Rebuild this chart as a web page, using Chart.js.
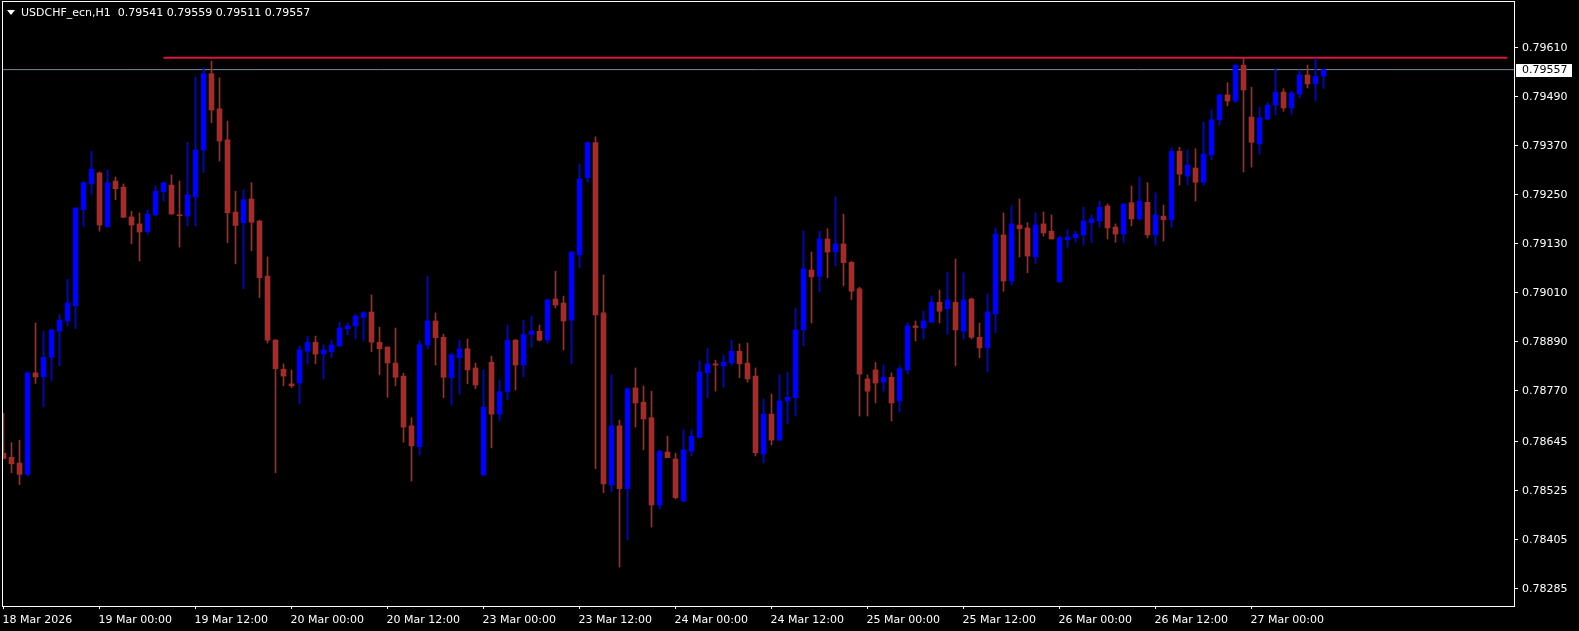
<!DOCTYPE html>
<html lang="en">
<head>
<meta charset="UTF-8">
<title>USDCHF_ecn,H1</title>
<script src="https://cdn.jsdelivr.net/npm/chart.js"></script>
<style>
  html, body { margin: 0; padding: 0; background: #000; }
  canvas { display: block; }
</style>
</head>
<body>
<canvas id="chart" width="1579" height="631"></canvas>
<script>
const symbol = 'USDCHF_ecn,H1';

// hourly bars, 18 Mar 12:00 .. 27 Mar 09:00
const opens = [
  0.78617, 0.78607, 0.78593, 0.78565, 0.78814, 0.78804, 0.78852, 0.78916, 0.78941, 0.78978,
  0.79214, 0.79277, 0.79304, 0.79172, 0.79284, 0.79269, 0.79196, 0.79179, 0.79160, 0.79201,
  0.79258, 0.79274, 0.79201, 0.79198, 0.79245, 0.79360, 0.79547, 0.79461, 0.79385, 0.79208,
  0.79182, 0.79240, 0.79186, 0.79051, 0.78894, 0.78823, 0.78787, 0.78789, 0.78867, 0.78889,
  0.78860, 0.78866, 0.78880, 0.78922, 0.78929, 0.78950, 0.78963, 0.78889, 0.78877, 0.78838,
  0.78806, 0.78684, 0.78633, 0.78882, 0.78941, 0.78901, 0.78802, 0.78851, 0.78873, 0.78826,
  0.78564, 0.78840, 0.78713, 0.78768, 0.78894, 0.78833, 0.78908, 0.78916, 0.78894, 0.78995,
  0.78985, 0.78943, 0.79103, 0.79292, 0.79378, 0.78961, 0.78539, 0.78684, 0.78530, 0.78777,
  0.78742, 0.78704, 0.78490, 0.78620, 0.78603, 0.78500, 0.78622, 0.78656, 0.78814, 0.78836,
  0.78831, 0.78838, 0.78867, 0.78838, 0.78806, 0.78615, 0.78713, 0.78649, 0.78745, 0.78753,
  0.78919, 0.79066, 0.79050, 0.79142, 0.79110, 0.79130, 0.79085, 0.79020, 0.78799, 0.78821,
  0.78791, 0.78803, 0.78745, 0.78821, 0.78929, 0.78924, 0.78938, 0.78987, 0.78971, 0.78987,
  0.78916, 0.78995, 0.78901, 0.78875, 0.78958, 0.79152, 0.79039, 0.79176, 0.79169, 0.79098,
  0.79179, 0.79161, 0.79037, 0.79140, 0.79145, 0.79152, 0.79182, 0.79186, 0.79223, 0.79171,
  0.79154, 0.79231, 0.79191, 0.79232, 0.79152, 0.79198, 0.79189, 0.79357, 0.79296, 0.79316,
  0.79281, 0.79348, 0.79434, 0.79495, 0.79480, 0.79568, 0.79441, 0.79375, 0.79436, 0.79470,
  0.79502, 0.79463, 0.79497, 0.79544, 0.79522, 0.79541
];
const highs = [
  0.78715, 0.78643, 0.78649, 0.78814, 0.78936, 0.78916, 0.78921, 0.78957, 0.79043, 0.79218,
  0.79283, 0.79357, 0.79306, 0.79311, 0.79294, 0.79277, 0.79210, 0.79206, 0.79213, 0.79272,
  0.79281, 0.79299, 0.79284, 0.79379, 0.79539, 0.79562, 0.79578, 0.79537, 0.79431, 0.79259,
  0.79262, 0.79280, 0.79188, 0.79098, 0.78896, 0.78836, 0.78821, 0.78880, 0.78904, 0.78904,
  0.78883, 0.78894, 0.78938, 0.78936, 0.78957, 0.78964, 0.79005, 0.78926, 0.78878, 0.78924,
  0.78813, 0.78704, 0.78892, 0.79051, 0.78961, 0.78909, 0.78863, 0.78894, 0.78897, 0.78838,
  0.78821, 0.78855, 0.78796, 0.78931, 0.78896, 0.78943, 0.78953, 0.78931, 0.78995, 0.79063,
  0.79002, 0.79112, 0.79326, 0.79380, 0.79392, 0.79054, 0.78809, 0.78698, 0.78777, 0.78826,
  0.78782, 0.78769, 0.78624, 0.78659, 0.78617, 0.78674, 0.78674, 0.78843, 0.78873, 0.78845,
  0.78858, 0.78894, 0.78885, 0.78887, 0.78826, 0.78750, 0.78762, 0.78809, 0.78816, 0.78973,
  0.79161, 0.79110, 0.79161, 0.79167, 0.79245, 0.79203, 0.79087, 0.79024, 0.78809, 0.78840,
  0.78833, 0.78814, 0.78831, 0.78936, 0.78941, 0.78965, 0.79002, 0.79017, 0.79061, 0.79093,
  0.79059, 0.78997, 0.78936, 0.79007, 0.79169, 0.79206, 0.79223, 0.79240, 0.79182, 0.79206,
  0.79208, 0.79201, 0.79149, 0.79164, 0.79161, 0.79220, 0.79201, 0.79235, 0.79228, 0.79179,
  0.79228, 0.79272, 0.79294, 0.79280, 0.79255, 0.79225, 0.79365, 0.79367, 0.79360, 0.79363,
  0.79428, 0.79458, 0.79497, 0.79525, 0.79568, 0.79585, 0.79514, 0.79465, 0.79476, 0.79559,
  0.79510, 0.79504, 0.79556, 0.79568, 0.79584, 0.79559
];
const lows = [
  0.78604, 0.78569, 0.78540, 0.78562, 0.78788, 0.78731, 0.78794, 0.78831, 0.78929, 0.78922,
  0.79172, 0.79252, 0.79161, 0.79170, 0.79238, 0.79195, 0.79130, 0.79088, 0.79153, 0.79199,
  0.79235, 0.79203, 0.79122, 0.79174, 0.79174, 0.79305, 0.79427, 0.79333, 0.79133, 0.79081,
  0.79020, 0.79113, 0.78998, 0.78887, 0.78569, 0.78782, 0.78778, 0.78738, 0.78836, 0.78836,
  0.78799, 0.78851, 0.78878, 0.78907, 0.78897, 0.78892, 0.78866, 0.78809, 0.78754, 0.78782,
  0.78644, 0.78549, 0.78613, 0.78873, 0.78833, 0.78753, 0.78735, 0.78762, 0.78787, 0.78775,
  0.78562, 0.78630, 0.78696, 0.78748, 0.78772, 0.78804, 0.78877, 0.78892, 0.78887, 0.78973,
  0.78870, 0.78836, 0.79071, 0.79281, 0.78579, 0.78520, 0.78522, 0.78338, 0.78404, 0.78681,
  0.78625, 0.78436, 0.78481, 0.78606, 0.78505, 0.78498, 0.78610, 0.78655, 0.78753, 0.78769,
  0.78779, 0.78833, 0.78802, 0.78791, 0.78610, 0.78593, 0.78637, 0.78647, 0.78689, 0.78708,
  0.78880, 0.78936, 0.79012, 0.79047, 0.79076, 0.79027, 0.78993, 0.78708, 0.78708, 0.78740,
  0.78769, 0.78696, 0.78718, 0.78811, 0.78892, 0.78897, 0.78936, 0.78936, 0.78909, 0.78831,
  0.78897, 0.78897, 0.78851, 0.78816, 0.78912, 0.79014, 0.79029, 0.79098, 0.79059, 0.79081,
  0.79149, 0.79142, 0.79035, 0.79122, 0.79134, 0.79127, 0.79133, 0.79171, 0.79142, 0.79134,
  0.79134, 0.79174, 0.79189, 0.79145, 0.79127, 0.79137, 0.79171, 0.79274, 0.79274, 0.79235,
  0.79274, 0.79336, 0.79421, 0.79468, 0.79476, 0.79306, 0.79318, 0.79350, 0.79434, 0.79446,
  0.79455, 0.79448, 0.79488, 0.79512, 0.79480, 0.79511
];
const closes = [
  0.78604, 0.78591, 0.78565, 0.78814, 0.78804, 0.78852, 0.78919, 0.78943, 0.78985, 0.79218,
  0.79280, 0.79313, 0.79176, 0.79280, 0.79265, 0.79195, 0.79176, 0.79159, 0.79203, 0.79259,
  0.79280, 0.79203, 0.79199, 0.79250, 0.79360, 0.79547, 0.79458, 0.79382, 0.79206, 0.79175,
  0.79238, 0.79183, 0.79047, 0.78894, 0.78824, 0.78806, 0.78782, 0.78870, 0.78889, 0.78860,
  0.78870, 0.78882, 0.78924, 0.78929, 0.78953, 0.78961, 0.78889, 0.78873, 0.78838, 0.78803,
  0.78681, 0.78635, 0.78883, 0.78941, 0.78900, 0.78803, 0.78858, 0.78873, 0.78821, 0.78784,
  0.78730, 0.78713, 0.78768, 0.78894, 0.78833, 0.78908, 0.78916, 0.78894, 0.78993, 0.78980,
  0.78941, 0.79110, 0.79289, 0.79378, 0.78956, 0.78542, 0.78684, 0.78530, 0.78775, 0.78740,
  0.78701, 0.78490, 0.78622, 0.78606, 0.78508, 0.78625, 0.78659, 0.78816, 0.78836, 0.78833,
  0.78840, 0.78867, 0.78836, 0.78799, 0.78618, 0.78713, 0.78649, 0.78745, 0.78754, 0.78919,
  0.79069, 0.79049, 0.79142, 0.79110, 0.79130, 0.79084, 0.79014, 0.78811, 0.78769, 0.78789,
  0.78803, 0.78740, 0.78824, 0.78929, 0.78925, 0.78941, 0.78987, 0.78965, 0.78993, 0.78919,
  0.78993, 0.78901, 0.78875, 0.78963, 0.79154, 0.79039, 0.79179, 0.79167, 0.79100, 0.79176,
  0.79157, 0.79142, 0.79145, 0.79147, 0.79154, 0.79186, 0.79191, 0.79220, 0.79169, 0.79154,
  0.79228, 0.79191, 0.79235, 0.79152, 0.79201, 0.79189, 0.79357, 0.79301, 0.79323, 0.79281,
  0.79350, 0.79434, 0.79495, 0.79480, 0.79568, 0.79507, 0.79379, 0.79439, 0.79470, 0.79502,
  0.79463, 0.79500, 0.79544, 0.79522, 0.79541, 0.79557
];

const tickIndex = [0, 12, 24, 36, 48, 60, 72, 84, 96, 108, 120, 132, 144, 156];
const tickLabels = [
  '18 Mar 2026', '19 Mar 00:00', '19 Mar 12:00', '20 Mar 00:00', '20 Mar 12:00',
  '23 Mar 00:00', '23 Mar 12:00', '24 Mar 00:00', '24 Mar 12:00', '25 Mar 00:00',
  '25 Mar 12:00', '26 Mar 00:00', '26 Mar 12:00', '27 Mar 00:00'
];
const priceTicks = [0.79610, 0.79490, 0.79370, 0.79250, 0.79130, 0.79010,
                    0.78890, 0.78770, 0.78645, 0.78525, 0.78405, 0.78285];

// horizontal level drawn on the chart
const levelPrice = 0.79586;
const levelFrom = 20;
const levelTo = 188;

const BULL = '#0000ff';
const BEAR = '#a52a2a';

const last = closes.length - 1;
const colors = closes.map((c, i) => c >= opens[i] ? BULL : BEAR);

Chart.defaults.font.family = "'DejaVu Sans', sans-serif";
Chart.defaults.font.size = 11;

const xMin = -0.0625, xMax = 188.8125;

const terminal = {
    id: 'terminal',
    beforeDraw(chart) {
        const ctx = chart.ctx;
        ctx.save();
        ctx.fillStyle = '#000';
        ctx.fillRect(0, 0, chart.width, chart.height);
        ctx.restore();
    },
    afterDraw(chart) {
        const ctx = chart.ctx;
        const y = chart.scales.y;
        ctx.save();
        // frame
        ctx.strokeStyle = '#fff';
        ctx.lineWidth = 1;
        ctx.strokeRect(2.5, 1.5, 1512, 605);

        // header
        ctx.fillStyle = '#fff';
        ctx.beginPath();
        ctx.moveTo(7, 10);
        ctx.lineTo(15, 10);
        ctx.lineTo(11, 15);
        ctx.closePath();
        ctx.fill();
        ctx.font = "11px 'DejaVu Sans'";
        ctx.textBaseline = 'alphabetic';
        ctx.textAlign = 'left';
        const head = symbol + '  ' + [opens[last], highs[last], lows[last], closes[last]]
            .map(v => v.toFixed(5)).join(' ');
        ctx.fillText(head, 21, 16);

        // last price label
        const py = Math.round(y.getPixelForValue(closes[last]));
        ctx.fillStyle = '#fff';
        ctx.fillRect(1516, py - 6, 56, 13);
        ctx.fillStyle = '#000';
        ctx.textBaseline = 'middle';
        ctx.fillText(closes[last].toFixed(5), 1522, py + 0.5);
        ctx.restore();
    }
};

new Chart(document.getElementById('chart'), {
    type: 'bar',
    data: {
        datasets: [
            {
                type: 'line',
                data: [{x: xMin, y: closes[last]}, {x: xMax, y: closes[last]}],
                borderColor: '#778899',
                borderWidth: 1,
                pointRadius: 0,
                order: 4
            },
            {
                type: 'line',
                data: [{x: levelFrom, y: levelPrice}, {x: levelTo, y: levelPrice}],
                borderColor: '#dc143c',
                borderWidth: 2,
                pointRadius: 0,
                order: 3
            },
            {
                data: opens.map((o, i) => ({x: i, y: [lows[i], highs[i]]})),
                backgroundColor: colors,
                barThickness: 1,
                grouped: false,
                borderWidth: 0,
                order: 2
            },
            {
                data: opens.map((o, i) => ({x: i, y: [o, closes[i]]})),
                backgroundColor: colors,
                barThickness: 5,
                minBarLength: 1,
                grouped: false,
                borderWidth: 0,
                order: 1
            }
        ]
    },
    options: {
        responsive: false,
        animation: false,
        devicePixelRatio: 1,
        layout: { padding: { left: 3, top: 2, right: 0, bottom: 0 } },
        plugins: {
            legend: { display: false },
            tooltip: { enabled: false }
        },
        scales: {
            x: {
                type: 'linear',
                offset: false,
                min: xMin,
                max: xMax,
                afterFit: s => {
                    s.height = 25;
                    s.paddingLeft = 0;
                    s.paddingRight = 0;
                },
                afterBuildTicks: s => { s.ticks = tickIndex.map(v => ({value: v})); },
                ticks: {
                    color: '#fff',
                    align: 'start',
                    padding: 5,
                    maxRotation: 0,
                    autoSkip: false,
                    labelOffset: -1,
                    callback: (v, i) => tickLabels[i]
                },
                grid: { offset: false, drawOnChartArea: false, drawTicks: true, tickLength: 3, color: '#fff' },
                border: { display: false }
            },
            y: {
                position: 'right',
                min: 0.782426,
                max: 0.797227,
                afterFit: s => {
                    s.width = 65;
                    s.paddingTop = 0;
                    s.paddingBottom = 0;
                },
                afterBuildTicks: s => { s.ticks = priceTicks.map(v => ({value: v})); },
                ticks: {
                    color: '#fff',
                    padding: 4,
                    callback: v => v.toFixed(5)
                },
                grid: { drawOnChartArea: false, drawTicks: true, tickLength: 4, color: '#fff' },
                border: { display: false }
            }
        }
    },
    plugins: [terminal]
});
</script>
</body>
</html>
